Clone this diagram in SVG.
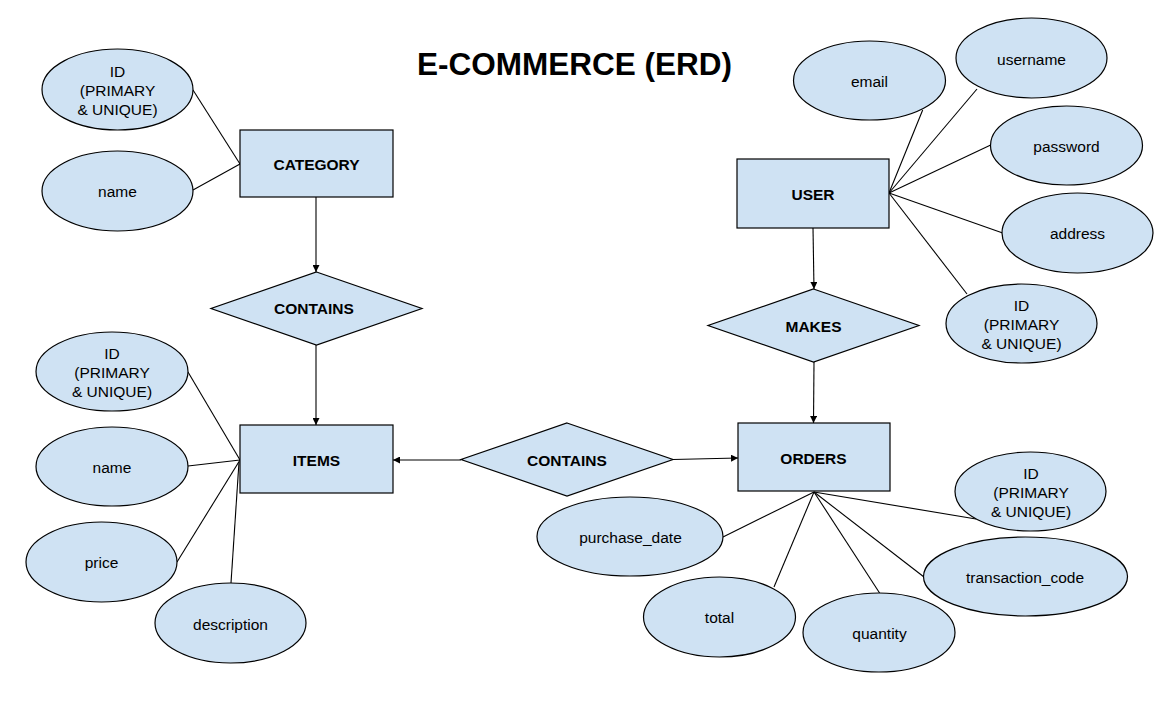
<svg xmlns="http://www.w3.org/2000/svg" width="1174" height="713" viewBox="0 0 1174 713">
<defs>
<marker id="arr" viewBox="0 0 10 10" refX="10" refY="5" markerWidth="7" markerHeight="7" markerUnits="userSpaceOnUse" orient="auto">
<path d="M0,0 L10,5 L0,10 z" fill="#000"/>
</marker>
</defs>
<style>
.shape{fill:#cfe2f3;stroke:#000;stroke-width:1.2}
.t{font-family:"Liberation Sans",Arial,sans-serif;font-size:15.5px;fill:#000;text-anchor:middle;dominant-baseline:central}
.b{font-weight:bold}
.ln{stroke:#000;stroke-width:1.1;fill:none}
.ar{stroke:#000;stroke-width:1.1;fill:none;marker-end:url(#arr)}
</style>
<rect width="1174" height="713" fill="#fff"/>
<text x="574.5" y="75" font-family="'Liberation Sans',Arial,sans-serif" font-size="31.5" font-weight="bold" text-anchor="middle">E-COMMERCE (ERD)</text>

<g id="connectors">
<line class="ln" x1="193" y1="90" x2="240" y2="164"/>
<line class="ln" x1="193" y1="190" x2="240" y2="164"/>
<line class="ar" x1="316" y1="197" x2="316" y2="272"/>
<line class="ar" x1="316" y1="345" x2="316" y2="425"/>
<line class="ln" x1="188" y1="372" x2="240" y2="460"/>
<line class="ln" x1="188" y1="466" x2="240" y2="460"/>
<line class="ln" x1="177" y1="562" x2="240" y2="460"/>
<line class="ln" x1="231" y1="583" x2="239" y2="462"/>
<line class="ar" x1="461" y1="460" x2="393" y2="460"/>
<line class="ar" x1="673" y1="459.5" x2="738" y2="458"/>
<line class="ln" x1="889" y1="193" x2="922.7" y2="110"/>
<line class="ln" x1="889" y1="193" x2="977" y2="89"/>
<line class="ln" x1="889" y1="193" x2="990.7" y2="145"/>
<line class="ln" x1="889" y1="193" x2="1002.7" y2="233"/>
<line class="ln" x1="889" y1="193" x2="967" y2="294"/>
<line class="ar" x1="813" y1="228" x2="814" y2="289"/>
<line class="ar" x1="814" y1="362" x2="813.5" y2="423"/>
<line class="ln" x1="814" y1="492" x2="723" y2="537"/>
<line class="ln" x1="814" y1="492" x2="774" y2="587"/>
<line class="ln" x1="814" y1="492" x2="879.6" y2="593"/>
<line class="ln" x1="814" y1="492" x2="924" y2="577"/>
<line class="ln" x1="814" y1="492" x2="976" y2="519"/>
</g>

<g id="category">
<rect class="shape" x="240" y="130" width="153" height="67"/>
<text class="t b" x="316.5" y="164">CATEGORY</text>
</g>
<g id="category-id">
<ellipse class="shape" cx="117.5" cy="89.5" rx="75.5" ry="40.5"/>
<text class="t" x="117.5" y="71">ID</text>
<text class="t" x="117.5" y="90">(PRIMARY</text>
<text class="t" x="117.5" y="109">&amp; UNIQUE)</text>
</g>
<g id="category-name">
<ellipse class="shape" cx="117.5" cy="191" rx="75.5" ry="40"/>
<text class="t" x="117.5" y="191">name</text>
</g>
<g id="contains-1">
<polygon class="shape" points="316.5,272 422,308.5 316.5,345 211,308.5"/>
<text class="t b" x="314" y="308.5">CONTAINS</text>
</g>

<g id="items">
<rect class="shape" x="240" y="425" width="153" height="68"/>
<text class="t b" x="316.5" y="460">ITEMS</text>
</g>
<g id="items-id">
<ellipse class="shape" cx="112" cy="371.5" rx="76" ry="39.5"/>
<text class="t" x="112" y="353">ID</text>
<text class="t" x="112" y="372">(PRIMARY</text>
<text class="t" x="112" y="391">&amp; UNIQUE)</text>
</g>
<g id="items-name">
<ellipse class="shape" cx="112" cy="466.5" rx="76" ry="39.5"/>
<text class="t" x="112" y="467">name</text>
</g>
<g id="items-price">
<ellipse class="shape" cx="101.5" cy="562" rx="75.5" ry="40"/>
<text class="t" x="101.5" y="562.5">price</text>
</g>
<g id="items-description">
<ellipse class="shape" cx="230.5" cy="623" rx="75.5" ry="40"/>
<text class="t" x="230.5" y="624">description</text>
</g>

<g id="contains-2">
<polygon class="shape" points="567,423 673,459.5 567,496 461,459.5"/>
<text class="t b" x="567" y="460">CONTAINS</text>
</g>

<g id="user">
<rect class="shape" x="737" y="159" width="152" height="69"/>
<text class="t b" x="813" y="194">USER</text>
</g>
<g id="user-email">
<ellipse class="shape" cx="869.5" cy="80.5" rx="76" ry="39.5"/>
<text class="t" x="869.5" y="81.5">email</text>
</g>
<g id="user-username">
<ellipse class="shape" cx="1031.5" cy="58" rx="75.5" ry="40"/>
<text class="t" x="1031.5" y="59">username</text>
</g>
<g id="user-password">
<ellipse class="shape" cx="1066.5" cy="145.5" rx="76" ry="39.5"/>
<text class="t" x="1066.5" y="146">password</text>
</g>
<g id="user-address">
<ellipse class="shape" cx="1077.5" cy="233" rx="75.5" ry="40"/>
<text class="t" x="1077.5" y="233.5">address</text>
</g>
<g id="user-id">
<ellipse class="shape" cx="1021.5" cy="323.5" rx="75.5" ry="39.5"/>
<text class="t" x="1021.5" y="305">ID</text>
<text class="t" x="1021.5" y="324">(PRIMARY</text>
<text class="t" x="1021.5" y="343">&amp; UNIQUE)</text>
</g>
<g id="makes">
<polygon class="shape" points="813.5,289 919,325.5 813.5,362 708,325.5"/>
<text class="t b" x="813.5" y="326">MAKES</text>
</g>

<g id="orders">
<rect class="shape" x="738" y="423" width="152" height="68"/>
<text class="t b" x="813.5" y="458">ORDERS</text>
</g>
<g id="orders-id">
<ellipse class="shape" cx="1030.5" cy="491.5" rx="75.5" ry="39.5"/>
<text class="t" x="1031" y="473">ID</text>
<text class="t" x="1031" y="492">(PRIMARY</text>
<text class="t" x="1031" y="511">&amp; UNIQUE)</text>
</g>
<g id="orders-transaction-code">
<ellipse class="shape" cx="1025.5" cy="576.5" rx="102" ry="39.5"/>
<text class="t" x="1025" y="577">transaction_code</text>
</g>
<g id="orders-purchase-date">
<ellipse class="shape" cx="630" cy="536.5" rx="93" ry="39.5"/>
<text class="t" x="630.5" y="537">purchase_date</text>
</g>
<g id="orders-total">
<ellipse class="shape" cx="719.5" cy="617" rx="76" ry="40"/>
<text class="t" x="719.5" y="617">total</text>
</g>
<g id="orders-quantity">
<ellipse class="shape" cx="879" cy="632.5" rx="76" ry="39.5"/>
<text class="t" x="879.5" y="633">quantity</text>
</g>
</svg>
